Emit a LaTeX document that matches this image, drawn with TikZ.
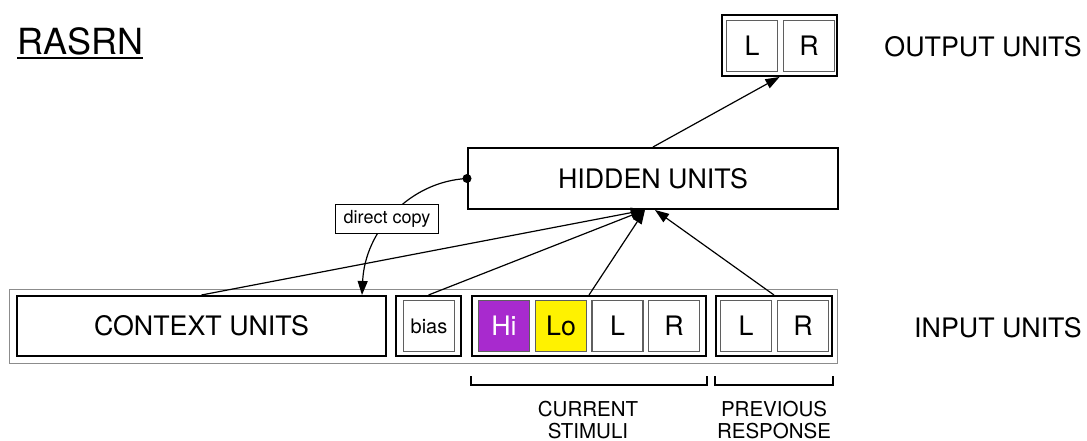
\documentclass[tikz,border=0pt]{standalone}
\usepackage{fontspec}
\setmainfont{TeX Gyre Heros}
\usetikzlibrary{arrows.meta}
\definecolor{hipurple}{RGB}{168,42,206}
\definecolor{cellgray}{RGB}{95,95,95}
\definecolor{framegray}{RGB}{140,140,140}
\tikzset{
  bigfont/.style={font=\fontsize{26.8}{30}\selectfont},
  group/.style={draw, line width=2pt, rectangle, inner sep=0pt},
  cell/.style={draw=cellgray, line width=1.2pt, rectangle, inner sep=0pt,
    minimum width=51pt, minimum height=51pt, bigfont},
  frame/.style={draw=framegray, line width=0.9pt, rectangle, inner sep=0pt},
  link/.style={line width=1.2pt, -{Triangle[length=14pt,width=10pt]}},
  brace/.style={line width=1.8pt},
  tag/.style={draw, line width=0.9pt, fill=white, inner sep=0pt,
    minimum width=103pt, minimum height=29pt, font=\fontsize{18}{20}\selectfont},
  sublabel/.style={align=center, inner sep=0pt, anchor=north,
    font=\fontsize{20.5}{22}\selectfont}
}
\begin{document}
\begin{tikzpicture}[x=1pt,y=-1pt]
\useasboundingbox (0,0) rectangle (1087,441);

% title
\node[anchor=base west, inner sep=0pt, font=\fontsize{36}{40}\selectfont] (title) at (17,55) {RASRN};
\draw[line width=2pt] ([yshift=-3pt]title.base west) -- ([yshift=-3pt]title.base east);

% input layer
\node[frame, minimum width=828pt, minimum height=74pt] (inp) at (423.75,326) {};
\node[group, minimum width=369pt, minimum height=60pt, bigfont] (ctx) at (201.5,326) {CONTEXT UNITS};
\node[group, minimum width=65pt, minimum height=60pt] (biasg) at (428.5,326) {};
\node[cell, font=\fontsize{20}{22}\selectfont] (bias) at (429,326) {bias};
\node[group, minimum width=234pt, minimum height=60pt] (cur) at (589,326) {};
\node[cell, fill=hipurple, text=white] (hi) at (504,326) {Hi};
\node[cell, fill=yellow] (lo) at (561,326) {Lo};
\node[cell] (cl) at (617.5,326) {L};
\node[cell] (cr) at (674,326) {R};
\node[group, minimum width=116pt, minimum height=60pt] (prev) at (774,326) {};
\node[cell] (pl) at (746,326) {L};
\node[cell] (pr) at (803,326) {R};
\node[anchor=east, inner sep=0pt, bigfont] (inlabel) at (1082,328) {INPUT UNITS};

% group brackets and their labels
\draw[brace] ([yshift=-19pt]cur.south west) -- ++(0,9) -| ([yshift=-19pt]cur.south east);
\draw[brace] ([yshift=-19pt]prev.south west) -- ++(0,9) -| ([yshift=-19pt]prev.south east);
\node[sublabel] (curlabel) at (588,400.5) {CURRENT\\STIMULI};
\node[sublabel] (prevlabel) at (774,400.5) {PREVIOUS\\RESPONSE};

% hidden layer
\node[group, minimum width=370pt, minimum height=61pt, bigfont] (hid) at (653,178.5) {HIDDEN UNITS};

% output layer
\node[group, minimum width=115pt, minimum height=61pt] (out) at (779.5,45.5) {};
\node[cell] (ol) at (752,46) {L};
\node[cell] (or) at (809,46) {R};
\node[anchor=east, inner sep=0pt, bigfont] (outlabel) at (1082,47) {OUTPUT UNITS};

% feed-forward connections
\draw[link] (ctx.north) -- ([xshift=-8pt]hid.south);
\draw[link] (biasg.north) -- ([xshift=-8pt]hid.south);
\draw[link] (cur.north) -- ([xshift=-8pt]hid.south);
\draw[link] (prev.north) -- ([xshift=2pt]hid.south);
\draw[link] (hid.north) -- (out.south);

% recurrent copy of the hidden layer into the context units
\draw[link] (hid.west) .. controls +(-57,3) and +(3,-65) .. ([xshift=-25pt]ctx.north east);
\fill (hid.west) circle (4.5pt);
\node[tag] (copy) at (387,219) {direct copy};
\end{tikzpicture}
\end{document}
